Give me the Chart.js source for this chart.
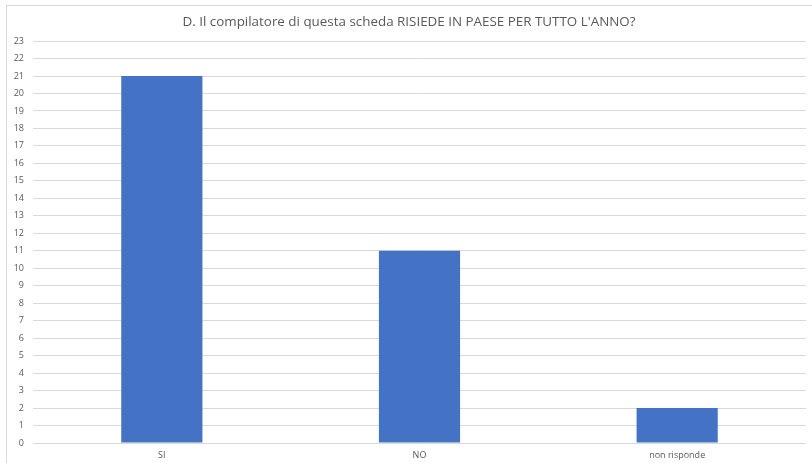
<!DOCTYPE html>
<html>
<head>
<meta charset="utf-8">
<script src="https://cdn.jsdelivr.net/npm/chart.js@4/dist/chart.umd.min.js"></script>
<style>
  html, body { margin: 0; padding: 0; background: #ffffff; }
  #wrap { position: relative; width: 812px; height: 463px; }
  #frame { position: absolute; left: 6px; top: 5px; right: 0; bottom: 0;
           border-top: 1px solid #d9d9d9; border-left: 1px solid #d9d9d9; }
  canvas { position: absolute; left: 0; top: 0; }
</style>
</head>
<body>
<div id="wrap">
  <div id="frame"></div>
  <canvas id="c" width="812" height="463"></canvas>
</div>
<script>
const chartTitle = "D. Il compilatore di questa scheda RISIEDE IN PAESE PER TUTTO L'ANNO?";
const categories = ["SI", "NO", "non risponde"];
const responses = [21, 11, 2];
const yMax = 23;

const textColor = "#595959";
const gridColor = "#d9d9d9";

new Chart(document.getElementById("c"), {
  type: "bar",
  data: {
    labels: categories,
    datasets: [{
      label: "Risposte",
      data: responses,
      backgroundColor: "#4472c4",
      borderWidth: 0,
      barPercentage: 0.315,
      categoryPercentage: 1
    }]
  },
  options: {
    responsive: false,
    animation: false,
    layout: { padding: { left: 12, right: 6, top: 0, bottom: 0 } },
    plugins: {
      legend: { display: false },
      tooltip: { enabled: false },
      title: {
        display: true,
        text: chartTitle,
        color: textColor,
        font: { family: "'Open Sans'", size: 13.4, weight: "normal" },
        padding: { top: 14, bottom: 11 }
      }
    },
    scales: {
      x: {
        grid: { display: false, drawTicks: false, tickLength: 0 },
        border: { display: false },
        ticks: { color: textColor, font: { family: "'Open Sans'", size: 9 }, padding: 7 },
        afterFit: (s) => { s.height = 20; }
      },
      y: {
        min: 0,
        max: yMax,
        grid: { color: gridColor, lineWidth: 1, drawTicks: false },
        border: { display: false },
        ticks: { stepSize: 1, color: textColor, font: { family: "'Open Sans'", size: 9 }, padding: 9 },
        afterFit: (s) => { s.width = 21; }
      }
    }
  }
});
</script>
</body>
</html>
